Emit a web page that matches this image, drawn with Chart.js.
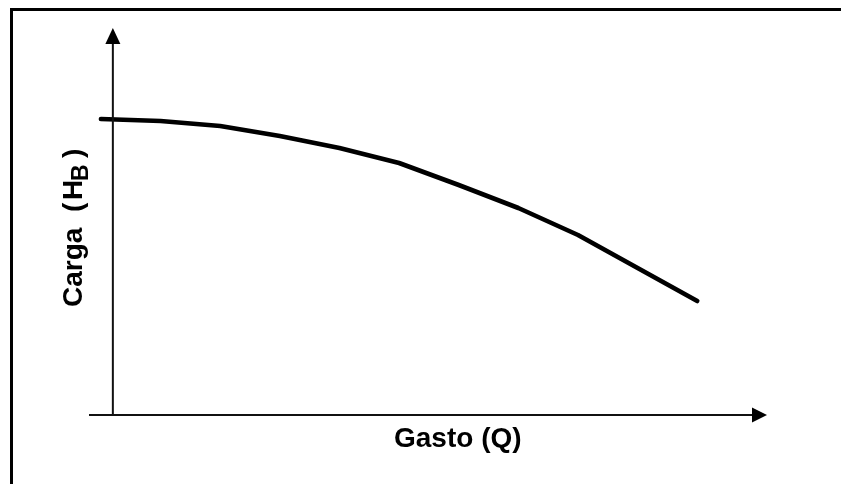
<!DOCTYPE html>
<html>
<head>
<meta charset="utf-8">
<script src="https://cdn.jsdelivr.net/npm/chart.js@4.4.1/dist/chart.umd.min.js"></script>
<style>
  html, body { margin: 0; padding: 0; background: #fff; }
  #wrap { width: 841px; height: 484px; position: relative; }
</style>
</head>
<body>
<div id="wrap"><canvas id="c" width="841" height="484"></canvas></div>
<script>
// Data (arbitrary units: no ticks in the original)
const gasto = [0, 1, 2, 3, 4, 5, 6, 7, 8, 9, 10];
const carga = [29.6, 29.4, 28.9, 27.9, 26.7, 25.2, 23.0, 20.7, 18.0, 14.7, 11.4];
const xTitle = "Gasto (Q)";
const yTitleParts = ["Carga", "(", "H", "B", ")"];

const points = gasto.map((q, i) => ({ x: q, y: carga[i] }));

const decor = {
  id: 'decor',
  afterDraw(chart) {
    const ctx = chart.ctx;
    const xs = chart.scales.x, ys = chart.scales.y;
    ctx.save();
    // page frame (top and left edges)
    ctx.fillStyle = '#000';
    ctx.fillRect(10, 8, 831, 3);
    ctx.fillRect(10, 8, 3, 476);

    // axes
    const ax = xs.getPixelForValue(0.2);
    const ay = ys.getPixelForValue(0);
    const yTop = ys.getPixelForValue(ys.max);
    const xRight = xs.getPixelForValue(xs.max);
    const xLeft = xs.getPixelForValue(xs.min);
    ctx.strokeStyle = '#111';
    ctx.lineWidth = 2;
    ctx.beginPath();
    ctx.moveTo(ax, ay);
    ctx.lineTo(ax, yTop + 14);
    ctx.moveTo(xLeft, ay);
    ctx.lineTo(xRight - 14, ay);
    ctx.stroke();
    // arrowheads
    ctx.fillStyle = '#000';
    ctx.beginPath();
    ctx.moveTo(ax, yTop);
    ctx.lineTo(ax - 7.5, yTop + 16);
    ctx.lineTo(ax + 7.5, yTop + 16);
    ctx.closePath();
    ctx.fill();
    ctx.beginPath();
    ctx.moveTo(xRight, ay);
    ctx.lineTo(xRight - 15, ay - 7.5);
    ctx.lineTo(xRight - 15, ay + 7.5);
    ctx.closePath();
    ctx.fill();

    // x title
    ctx.font = 'bold 28px "Liberation Sans", Arial, sans-serif';
    ctx.textBaseline = 'alphabetic';
    ctx.textAlign = 'left';
    ctx.fillText(xTitle, 394, 447);

    // y title (rotated, with subscript B)
    ctx.translate(82, 307);
    ctx.rotate(-Math.PI / 2);
    ctx.fillText(yTitleParts[0], 0, 0);
    ctx.fillText(yTitleParts[1], 95, 0);
    ctx.fillText(yTitleParts[2], 107, 0);
    ctx.font = 'bold 23px "Liberation Sans", Arial, sans-serif';
    ctx.fillText(yTitleParts[3], 126, 6);
    ctx.font = 'bold 28px "Liberation Sans", Arial, sans-serif';
    ctx.fillText(yTitleParts[4], 149, 0);
    ctx.restore();
  }
};

new Chart(document.getElementById('c'), {
  type: 'line',
  data: {
    datasets: [{
      data: points,
      borderColor: '#000',
      borderWidth: 4.6,
      borderCapStyle: 'round',
      borderJoinStyle: 'round',
      pointRadius: 0,
      tension: 0,
      fill: false
    }]
  },
  options: {
    responsive: false,
    animation: false,
    events: [],
    layout: { padding: { left: 89, right: 74, top: 28, bottom: 69 } },
    plugins: { legend: { display: false }, tooltip: { enabled: false } },
    scales: {
      x: { type: 'linear', min: -0.2, max: 11.17, display: false },
      y: { type: 'linear', min: 0, max: 38.7, display: false }
    }
  },
  plugins: [decor]
});
</script>
</body>
</html>
